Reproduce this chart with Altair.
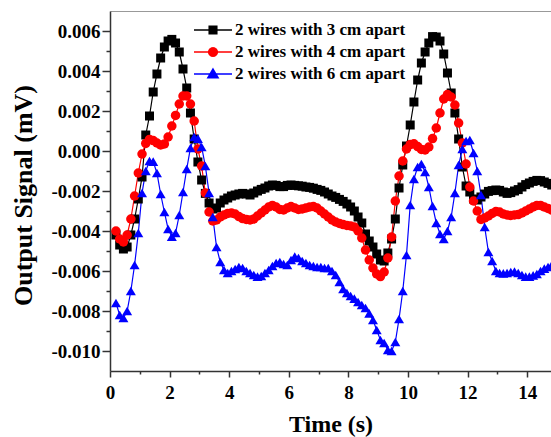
import math
import altair as alt
import pandas as pd

FONT = "Liberation Serif"

# sampling of the recorded traces (seconds)
T_START = 0.2
T_STEP = 0.125

series_names = ["2 wires with 3 cm apart", "2 wires with 4 cm apart", "2 wires with 6 cm apart"]
series_colors = ["#000000", "#FF0000", "#0000FF"]
series_shapes = ["square", "circle", "triangle-up"]
series_sizes = [81, 100, 121]

# output signal, in units of 0.001 mV
wires_3cm = [
    -4.2, -4.7, -4.9, -4.8, -4.2, -3.4, -2.4, -1.3, 0.8, 1.75,
    2.95, 3.85, 4.65, 5.2, 5.5, 5.58, 5.4, 4.95, 4.1, 3.15,
    1.9, 0.6, -0.55, -1.45, -2.12, -2.6, -2.9, -2.85, -2.6, -2.45,
    -2.35, -2.25, -2.2, -2.15, -2.12, -2.15, -2.2, -2.1, -2.0, -1.92,
    -1.85, -1.75, -1.7, -1.72, -1.78, -1.78, -1.72, -1.7, -1.72, -1.74,
    -1.76, -1.8, -1.82, -1.86, -1.92, -1.97, -2.05, -2.15, -2.25, -2.32,
    -2.42, -2.52, -2.65, -2.8, -3.0, -3.3, -3.6, -4.15, -4.5, -4.8,
    -5.15, -5.45, -5.5, -5.1, -4.4, -3.4, -1.85, -0.7, 0.25, 1.3,
    2.45, 3.55, 4.4, 4.95, 5.4, 5.72, 5.7, 5.5, 4.85, 3.9,
    2.9, 1.9, 0.6, -0.8, -1.75, -2.05, -2.4, -2.45, -2.3, -2.15,
    -2.02, -1.98, -1.95, -1.97, -2.05, -2.12, -2.08, -2.0, -1.93, -1.8,
    -1.68, -1.6, -1.52, -1.47, -1.48, -1.55, -1.62, -1.7,
]
wires_4cm = [
    -4.0, -4.4, -4.55, -4.2, -3.4, -2.25, -1.1, -0.15, 0.38, 0.58,
    0.52, 0.4, 0.3, 0.35, 0.7, 1.25, 1.78, 2.35, 2.75, 2.75,
    2.35, 1.5, 0.1, -0.75, -2.1, -3.05, -3.5, -3.45, -3.3, -3.2,
    -3.12, -3.1, -3.15, -3.28, -3.38, -3.42, -3.45, -3.4, -3.25, -3.1,
    -2.95, -2.8, -2.72, -2.8, -2.92, -2.95, -2.85, -2.78, -2.85, -2.92,
    -2.9, -2.85, -2.8, -2.78, -2.85, -3.0, -3.15, -3.3, -3.45, -3.55,
    -3.62, -3.68, -3.72, -3.75, -3.8, -4.0, -4.35, -4.95, -5.45, -5.85,
    -6.15, -6.28, -6.05, -5.35, -4.3, -2.5, -1.25, -0.5, 0.1, 0.32,
    0.36, 0.22, 0.08, 0.05, 0.2, 0.62, 1.15, 1.9, 2.6, 2.82,
    2.7, 2.3, 1.4, 0.4, -0.65, -1.8, -2.5, -3.0, -3.42, -3.35,
    -3.25, -3.12, -3.03, -3.05, -3.15, -3.2, -3.22, -3.2, -3.18, -3.1,
    -3.0, -2.9, -2.8, -2.72, -2.72, -2.8, -2.87, -2.95,
]
wires_6cm = [
    -7.6, -8.2, -8.35, -8.0, -7.0, -5.7, -4.1, -2.1, -1.0, -0.5,
    -0.53, -1.1, -2.15, -3.05, -3.9, -4.28, -4.1, -3.2, -2.05, -0.9,
    0.15, 0.7, 0.62, 0.2, -0.75, -2.1, -3.3, -4.8, -5.55, -5.95,
    -6.1, -6.0, -5.9, -5.8, -5.85, -6.0, -6.1, -6.2, -6.28, -6.25,
    -6.1, -5.95, -5.75, -5.6, -5.55, -5.65, -5.7, -5.45, -5.28, -5.35,
    -5.5, -5.6, -5.7, -5.75, -5.8, -5.8, -5.85, -5.85, -6.0, -6.2,
    -6.55, -6.9, -7.1, -7.25, -7.38, -7.55, -7.7, -7.85, -8.12, -8.45,
    -8.95, -9.45, -9.6, -9.95, -10.0, -9.55, -8.4, -7.0, -5.2, -2.7,
    -1.4, -0.8, -0.65, -1.05, -1.8, -2.75, -3.6, -4.15, -4.4, -4.0,
    -3.3, -2.1, -0.7, 0.1, 0.5, 0.55, -0.1, -1.0, -2.2, -3.8,
    -5.05, -5.5, -6.0, -6.1, -6.12, -6.1, -6.05, -6.03, -6.1, -6.2,
    -6.28, -6.28, -6.22, -6.15, -6.0, -5.88, -5.8, -5.7,
]

x_ticks = list(range(0, 15))
y_ticks = [round(k * 0.001, 3) for k in range(-10, 7)]


# ---- legend symbol glyphs: line segment + solid marker, drawn with strokes only (unit box -1..1)
def _f(v):
    return f"{v:.3f}"


def _hatch_rows(y0, y1, step=0.035):
    ys, y = [], y0
    while y <= y1 + 1e-9:
        ys.append(y)
        y += step
    return ys


def square_glyph(a):
    parts = ["M-1,0L1,0", f"M{_f(-a)},{_f(-a)}L{_f(a)},{_f(-a)}L{_f(a)},{_f(a)}L{_f(-a)},{_f(a)}Z"]
    for y in _hatch_rows(-a, a):
        parts.append(f"M{_f(-a)},{_f(y)}L{_f(a)},{_f(y)}")
    return "".join(parts)


def circle_glyph(r):
    parts = ["M-1,0L1,0", f"M{_f(-r)},0A{_f(r)},{_f(r)},0,1,1,{_f(r)},0A{_f(r)},{_f(r)},0,1,1,{_f(-r)},0Z"]
    for y in _hatch_rows(-r + 0.02, r - 0.02):
        h = math.sqrt(max(r * r - y * y, 0))
        parts.append(f"M{_f(-h)},{_f(y)}L{_f(h)},{_f(y)}")
    return "".join(parts)


def triangle_glyph(top, base, w):
    parts = ["M-1,0L1,0", f"M0,{_f(-top)}L{_f(w)},{_f(base)}L{_f(-w)},{_f(base)}Z"]
    for y in _hatch_rows(-top + 0.03, base):
        h = w * (y + top) / (top + base)
        parts.append(f"M{_f(-h)},{_f(y)}L{_f(h)},{_f(y)}")
    return "".join(parts)


legend_glyphs = [square_glyph(0.2), circle_glyph(0.23), triangle_glyph(0.26, 0.2, 0.27)]
legend_rows_y = [10, 32, 54]

rows = []
for name, vals in zip(series_names, [wires_3cm, wires_4cm, wires_6cm]):
    for i, v in enumerate(vals):
        rows.append({"time": round(T_START + i * T_STEP, 3), "signal": v / 1000.0, "series": name})
df = pd.DataFrame(rows)

x_scale = alt.Scale(domain=[0, 14.8], nice=False, zero=False)
y_scale = alt.Scale(domain=[-0.011, 0.007], nice=False, zero=False)
color_scale = alt.Scale(domain=series_names, range=series_colors)

AXIS_COLOR = "#333333"

x_axis = alt.Axis(
    values=x_ticks, format="d",
    labelExpr="datum.value % 2 == 0 ? datum.label : ''",
    tickSize={"condition": {"test": "datum.value % 2 == 0", "value": 6}, "value": 3},
    title="Time (s)", titleFont=FONT, titleFontSize=24, titleFontWeight="bold", titleColor="black",
    titlePadding=10,
    labelFont=FONT, labelFontSize=19, labelFontWeight="bold", labelColor="black", labelPadding=6,
    labelOverlap=False, labelFlush=False,
    domainColor=AXIS_COLOR, domainWidth=1.5, tickColor=AXIS_COLOR, tickWidth=1.5, grid=False,
)
y_axis = alt.Axis(
    values=y_ticks,
    labelExpr="round(datum.value * 1000) % 2 == 0 ? ((datum.value < 0 ? '-' : '') + format(abs(datum.value), '.3f')) : ''",
    tickSize={"condition": {"test": "round(datum.value * 1000) % 2 == 0", "value": 8}, "value": 4},
    title="Output Signal (mV)", titleFont=FONT, titleFontSize=26, titleFontWeight="bold", titleColor="black",
    titlePadding=14, titleY=184,
    labelFont=FONT, labelFontSize=19, labelFontWeight="bold", labelColor="black", labelPadding=2,
    labelOverlap=False, labelFlush=False,
    domainColor=AXIS_COLOR, domainWidth=1.5, tickColor=AXIS_COLOR, tickWidth=1.5, grid=False,
)
top_axis = alt.Axis(orient="top", labels=False, ticks=False, title=None, grid=False,
                    domainColor="#999999", domainWidth=1)

base = alt.Chart(df)

lines = base.mark_line(strokeWidth=1.2).encode(
    x=alt.X("time:Q", scale=x_scale, axis=x_axis),
    y=alt.Y("signal:Q", scale=y_scale, axis=y_axis),
    color=alt.Color("series:N", scale=color_scale, legend=None),
)

points = base.mark_point(filled=True, opacity=1).encode(
    x=alt.X("time:Q", scale=x_scale, axis=None),
    y=alt.Y("signal:Q", scale=y_scale, axis=y_axis),
    color=alt.Color("series:N", scale=color_scale, legend=None),
    shape=alt.Shape("series:N", scale=alt.Scale(domain=series_names, range=series_shapes), legend=None),
    size=alt.Size("series:N", scale=alt.Scale(domain=series_names, range=series_sizes), legend=None),
)

# one legend entry per series, each carried by an empty layer with its own stroke scale
legend_layers = []
for k, (name, color, glyph, ly) in enumerate(zip(series_names, series_colors, legend_glyphs, legend_rows_y)):
    leg = alt.Legend(
        title=None, orient="none", legendX=83, legendY=ly, padding=0, offset=0,
        symbolType=glyph, symbolSize=1444, symbolStrokeWidth=1.5, clipHeight=18, labelOffset=2,
        labelFont=FONT, labelFontSize=17, labelFontWeight="bold", labelColor="black", labelLimit=400,
    )
    enc = dict(
        stroke=alt.Stroke("series:N", scale=alt.Scale(domain=[name], range=[color]), legend=leg),
    )
    if k == 0:
        enc["x"] = alt.X("time:Q", scale=x_scale, axis=top_axis)
    legend_layers.append(
        base.transform_filter("false").mark_point(filled=False, opacity=1).encode(**enc)
    )

chart = (
    alt.layer(lines, points, *legend_layers)
    .resolve_scale(shape="independent", stroke="independent")
    .resolve_legend(stroke="independent")
    .resolve_axis(x="independent")
    .properties(
        width=441, height=360,
        autosize=alt.AutoSizeParams(type="none"),
        padding={"left": 110, "top": 11, "right": 0, "bottom": 66},
        background="white",
    )
    .configure_view(stroke="transparent")
)

chart.save("out.html", embed_options={"renderer": "svg", "actions": False})
